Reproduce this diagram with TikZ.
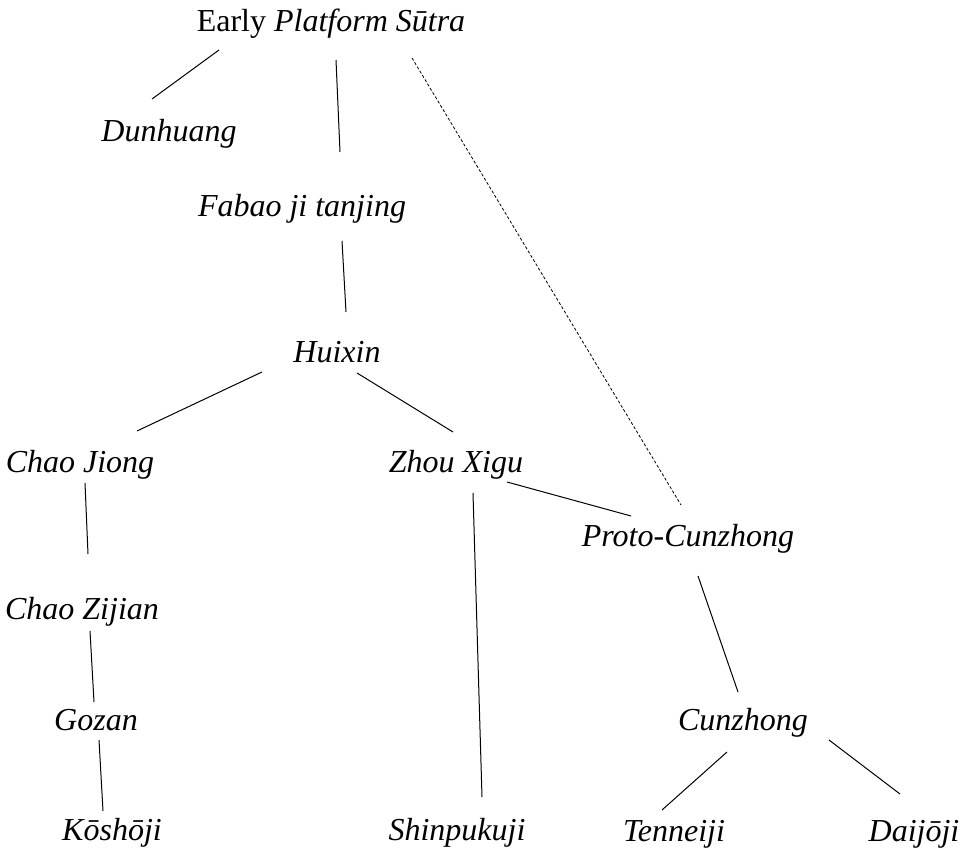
\documentclass[tikz,border=0pt]{standalone}
\usepackage{fontspec}
\setmainfont{Liberation Serif}
\usepackage{tikz}

\begin{document}
\begin{tikzpicture}[x=0.5pt,y=-0.5pt,font=\fontsize{16}{19}\selectfont,
	every node/.style={anchor=base,inner sep=0pt},
	stem/.style={line width=0.5pt},
	lost/.style={line width=0.4pt,dash pattern=on 1.5pt off 1pt}]
					\useasboundingbox (0,0) rectangle (964,849);
					\node (ep) at (331,32) {Early \textit{Platform Sūtra}};
					\node (dh) at (169,142) {\textit{Dunhuang}};
					\node (fb) at (302,217) {\textit{Fabao ji tanjing}};
					\node (hx) at (337,363) {\textit{Huixin}};
					\node (cj) at (80,473) {\textit{Chao Jiong}};
					\node (zx) at (456,473) {\textit{Zhou Xigu}};
					\node (pc) at (688,547) {\textit{Proto-Cunzhong}};
					\node (cz) at (82,620) {\textit{Chao Zijian}};
					\node (gz) at (96,730) {\textit{Gozan}};
					\node (cu) at (743,731) {\textit{Cunzhong}};
					\node (ks) at (112,840) {\textit{Kōshōji}};
					\node (sp) at (457,840) {\textit{Shinpukuji}};
					\node (tn) at (674,841) {\textit{Tenneiji}};
					\node (dj) at (914,841) {\textit{Daijōji}};
					
					\path ([shift={(-112,18)}]ep.base) edge [stem] ([shift={(-17,-43)}]dh.base);
					\path ([shift={(5,28)}]ep.base) edge [stem] ([shift={(38,-65)}]fb.base);
					\path ([shift={(81,26)}]ep.base) edge [lost] ([shift={(-7,-42)}]pc.base);
					\path ([shift={(40,24)}]fb.base) edge [stem] ([shift={(9,-51)}]hx.base);
					\path ([shift={(-75,9)}]hx.base) edge [stem] ([shift={(57,-42)}]cj.base);
					\path ([shift={(20,10)}]hx.base) edge [stem] ([shift={(-3,-41)}]zx.base);
					\path ([shift={(5,10)}]cj.base) edge [stem] ([shift={(6,-66)}]cz.base);
					\path ([shift={(8,11)}]cz.base) edge [stem] ([shift={(-2,-28)}]gz.base);
					\path ([shift={(3,10)}]gz.base) edge [stem] ([shift={(-9,-29)}]ks.base);
					\path ([shift={(51,9)}]zx.base) edge [stem] ([shift={(-57,-31)}]pc.base);
					\path ([shift={(17,20)}]zx.base) edge [stem] ([shift={(25,-43)}]sp.base);
					\path ([shift={(10,29)}]pc.base) edge [stem] ([shift={(-5,-39)}]cu.base);
					\path ([shift={(-16,21)}]cu.base) edge [stem] ([shift={(-12,-31)}]tn.base);
					\path ([shift={(86,9)}]cu.base) edge [stem] ([shift={(-14,-47)}]dj.base);
\end{tikzpicture}
\end{document}
